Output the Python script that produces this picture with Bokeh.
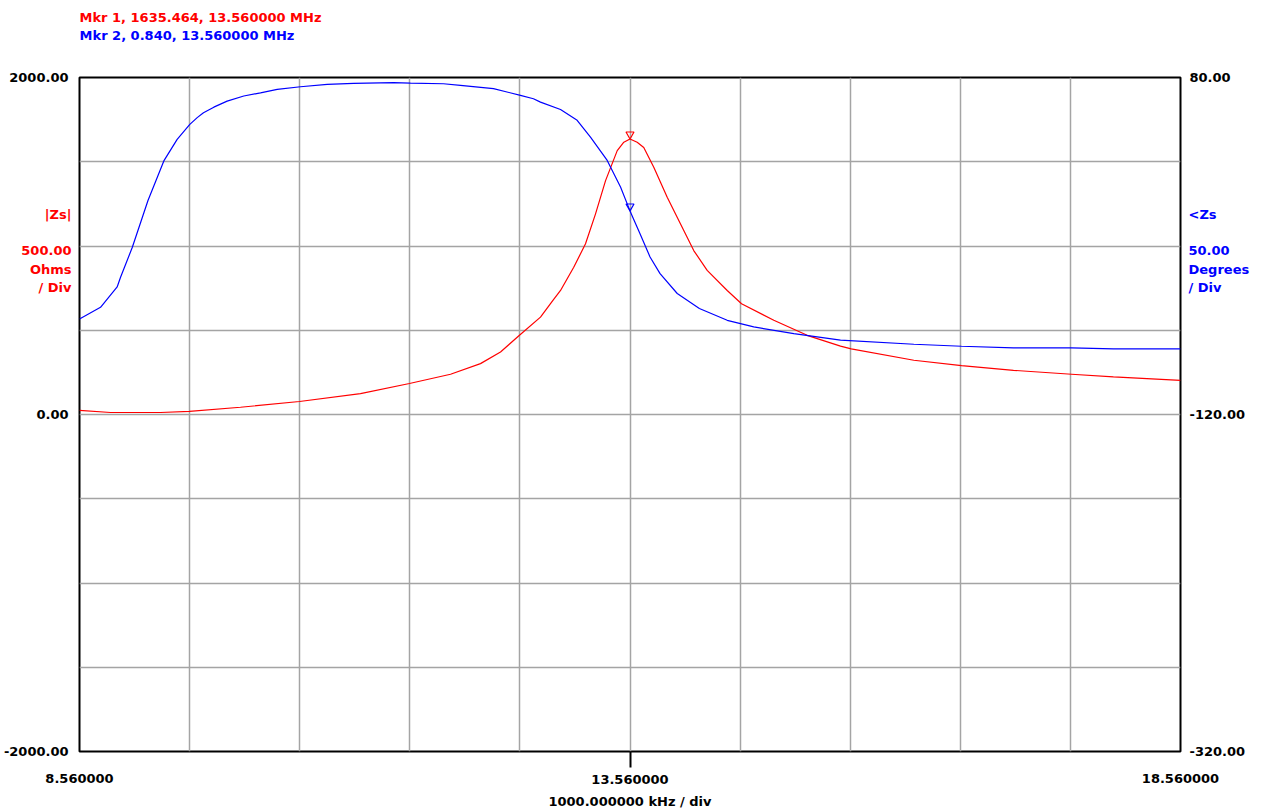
from bokeh.plotting import figure
from bokeh.models import Range1d, FixedTicker, LinearAxis
from bokeh.embed import file_html
from bokeh.resources import INLINE

# ---------------- data ----------------
freq_mag = [8.560, 8.842, 9.296, 9.559, 10.022, 10.558, 11.112, 11.557, 11.930,
            12.202, 12.384, 12.556, 12.747, 12.860, 12.929, 13.049, 13.156, 13.247,
            13.338, 13.444, 13.504, 13.560, 13.625, 13.685, 13.776, 13.898, 14.019,
            14.139, 14.261, 14.443, 14.573, 14.866, 15.169, 15.472, 15.569, 16.138,
            16.571, 17.043, 17.570, 17.951, 18.560]
mag_ohms = [25, 12, 12, 18, 43, 77, 124, 184, 239,
            302, 371, 470, 578, 677, 736, 874, 1013, 1191,
            1388, 1566, 1616, 1635.464, 1616, 1585, 1467, 1289, 1131,
            973, 855, 736, 657, 559, 470, 406, 389, 322,
            290, 262, 239, 223, 203]

freq_phase = [8.560, 8.751, 8.902, 8.932, 9.039, 9.182, 9.326, 9.447, 9.562,
              9.629, 9.686, 9.780, 9.901, 10.052, 10.204, 10.356, 10.567, 10.810,
              11.049, 11.412, 11.566, 11.866, 12.020, 12.320, 12.565, 12.683, 12.747,
              12.929, 13.080, 13.201, 13.353, 13.474, 13.560, 13.650, 13.742, 13.833,
              13.989, 14.190, 14.443, 14.684, 15.048, 15.472, 16.138, 16.571, 17.043,
              17.570, 17.951, 18.560]
phase_deg = [-63.3, -56.4, -44.3, -38.7, -20.9, 7.0, 30.5, 43.3, 52.2,
             56.2, 59.1, 62.4, 66.0, 69.0, 70.9, 73.0, 74.5, 75.9,
             76.5, 77.0, 76.7, 76.3, 75.3, 73.4, 69.4, 67.4, 65.4,
             61.0, 54.6, 44.6, 30.8, 15.0, 0.84, -12.6, -26.5, -36.4,
             -48.2, -57.1, -64.1, -68.0, -72.0, -75.9, -78.3, -79.5, -80.5,
             -80.5, -81.1, -81.1]

marker_freq = [13.56]
marker_mag = [1635.464]
marker_phase = [0.840]

x_grid = [8.56, 9.56, 10.56, 11.56, 12.56, 13.56, 14.56, 15.56, 16.56, 17.56, 18.56]
y_grid = [-2000, -1500, -1000, -500, 0, 500, 1000, 1500, 2000]
x_tick_vals = [8.56, 13.56, 18.56]
x_tick_labels = ["8.560000", "13.560000", "18.560000"]
left_tick_vals = [2000, 0, -2000]
left_tick_labels = ["2000.00", "0.00", "-2000.00"]
right_tick_vals = [80, -120, -320]
right_tick_labels = ["80.00", "-120.00", "-320.00"]
x_div_label = "1000.000000 kHz / div"
mag_scale_text = ["|Zs|", "500.00", "Ohms", "/ Div"]
phase_scale_text = ["<Zs", "50.00", "Degrees", "/ Div"]
header_texts = [f"Mkr 1, {marker_mag[0]:.3f}, {marker_freq[0]:.6f} MHz",
                f"Mkr 2, {marker_phase[0]:.3f}, {marker_freq[0]:.6f} MHz"]

X0, X1 = 8.56, 18.56
Y0, Y1 = -2000.0, 2000.0
D0, D1 = -320.0, 80.0

RED = "#ff0000"
BLUE = "#0000ff"
FONT = "DejaVu Sans"
FS = "13px"

# ---------------- layout (canvas pixels) ----------------
W, H = 1262, 812
FL, FT, FW, FH = 79, 77, 1101, 674   # plot frame
MR = W - FL - FW
MB = H - FT - FH
# measured label sizes (DejaVu Sans Bold 13px) used to overlap stacked axes
W_RED_CAPTION = 50     # "500.00"
W_RIGHT_NUM = 60       # "-120.00" + spacing
H_LABEL = 13           # label line height
HEADER_W = [242, 215]  # header line widths

def x_at(px):
    return round(X0 + (px - FL) / FW * (X1 - X0), 5)

def y_at(py):
    return round(Y1 - (py - FT) / FH * (Y1 - Y0), 3)

def d_at(py):
    return round(D1 - (py - FT) / FH * (D1 - D0), 4)

p = figure(width=W, height=H, x_range=Range1d(X0, X1), y_range=Range1d(Y0, Y1),
           toolbar_location=None, output_backend="svg", y_axis_location=None,
           min_border_left=FL, min_border_right=MR,
           min_border_top=FT, min_border_bottom=MB)
p.extra_y_ranges = {"deg": Range1d(D0, D1)}
p.background_fill_color = "white"
p.border_fill_color = "white"
p.outline_line_color = "black"
p.outline_line_width = 2

def style_axis(a, color="black", standoff=8, tick_out=0):
    a.axis_line_color = None
    a.major_tick_in = 0
    a.major_tick_out = tick_out
    a.minor_tick_line_color = None
    a.major_label_text_font = FONT
    a.major_label_text_font_size = FS
    a.major_label_text_font_style = "bold"
    a.major_label_text_color = color
    a.major_label_standoff = standoff

def text_axis(side, ticks, labels, color, standoff, y_range_name="default"):
    a = LinearAxis(y_range_name=y_range_name)
    style_axis(a, color, standoff)
    a.ticker = FixedTicker(ticks=ticks, minor_ticks=[])
    a.major_label_overrides = dict(zip(ticks, labels))
    a.major_tick_line_color = None
    p.add_layout(a, side)
    return a

# ---- left: red caption (inner) and black Ohm scale (outer, pulled inwards)
text_axis("left", [y_at(v) for v in (213.5, 249.5, 268.5, 287.5)], mag_scale_text, RED, 8)
text_axis("left", left_tick_vals, left_tick_labels, "black", -W_RED_CAPTION)

# ---- right: black degree scale (inner) and blue caption (outer, pulled inwards)
text_axis("right", right_tick_vals, right_tick_labels, "black", 9, "deg")
text_axis("right", [d_at(v) for v in (213.5, 250, 268.5, 287.5)], phase_scale_text,
          BLUE, -W_RIGHT_NUM, "deg")

# ---- bottom: centre tick + label (inner), outer labels + caption (outer, pulled up)
bx = p.xaxis[0]
style_axis(bx, "black", 7, 16)
bx.ticker = FixedTicker(ticks=[x_tick_vals[1]], minor_ticks=[])
bx.major_label_overrides = {x_tick_vals[1]: x_tick_labels[1]}
bx.major_tick_line_color = "black"
bx.major_tick_line_width = 2
ox = text_axis("below", [x_tick_vals[0], x_tick_vals[2]],
               [x_tick_labels[0], x_tick_labels[2]], "black", -H_LABEL)
ox.axis_label = x_div_label
ox.axis_label_text_font = FONT
ox.axis_label_text_font_size = FS
ox.axis_label_text_font_style = "bold"
ox.axis_label_text_color = "black"
ox.axis_label_standoff = 8

# ---- top: marker readouts (blue inner, red outer)
text_axis("above", [x_at(FL + HEADER_W[1] / 2)], [header_texts[1]], BLUE, 35)
text_axis("above", [x_at(FL + HEADER_W[0] / 2)], [header_texts[0]], RED, 0)

p.xgrid.ticker = FixedTicker(ticks=x_grid, minor_ticks=[])
p.ygrid.ticker = FixedTicker(ticks=y_grid, minor_ticks=[])
for g in (p.xgrid, p.ygrid):
    g.grid_line_color = "#a4a4a4"
    g.grid_line_width = 1.5

# curves
p.line(freq_mag, mag_ohms, line_color=RED, line_width=1.2)
p.line(freq_phase, phase_deg, line_color=BLUE, line_width=1.2, y_range_name="deg")

# markers: inverted triangles whose tip sits on the trace
tip = 4.6  # px from marker centre to tip
p.scatter(marker_freq, [m + tip * (Y1 - Y0) / FH for m in marker_mag],
          marker="inverted_triangle", size=8, fill_color=None, line_color=RED, line_width=1.2)
p.scatter(marker_freq, [m + tip * (D1 - D0) / FH for m in marker_phase],
          marker="inverted_triangle", size=8, fill_color=None, line_color=BLUE, line_width=1.2,
          y_range_name="deg")

open("out.html", "w").write(file_html(p, INLINE))
